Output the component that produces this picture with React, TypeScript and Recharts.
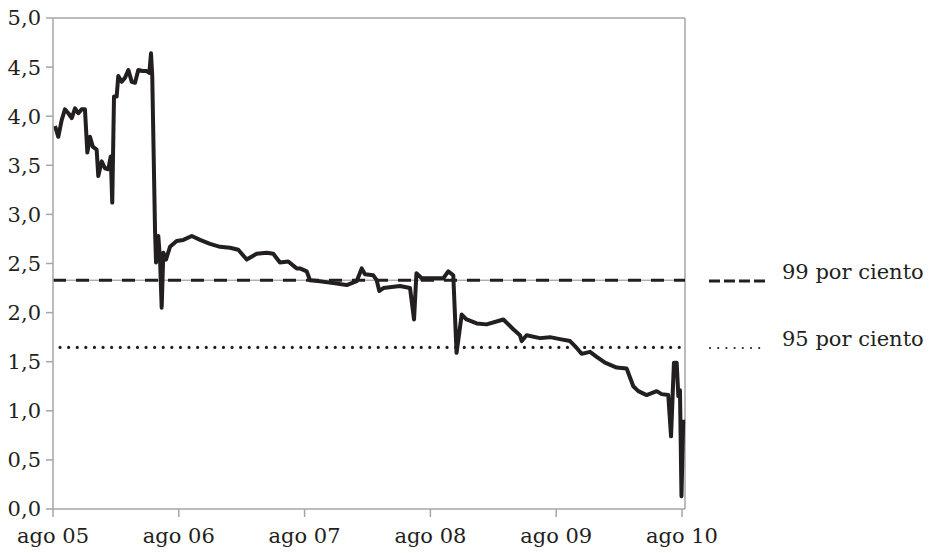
import { LineChart, Line, XAxis, YAxis, ReferenceLine } from 'recharts'

// years since ago 05
const dates = [
  0.016, 0.042, 0.069, 0.095, 0.122, 0.149, 0.175, 0.201, 0.228, 0.254,
  0.273, 0.294, 0.316, 0.347, 0.36, 0.387, 0.413, 0.44, 0.459, 0.471,
  0.485, 0.506, 0.519, 0.546, 0.572, 0.599, 0.626, 0.652, 0.678, 0.713,
  0.745, 0.766, 0.779, 0.789, 0.811, 0.819, 0.837, 0.851, 0.864, 0.877,
  0.898, 0.93, 0.983, 1.036, 1.103, 1.169, 1.248, 1.328, 1.407, 1.473,
  1.54, 1.619, 1.699, 1.751, 1.804, 1.87, 1.937, 1.963, 2.017, 2.043,
  2.122, 2.228, 2.335, 2.414, 2.454, 2.48, 2.546, 2.573, 2.594, 2.626,
  2.758, 2.838, 2.87, 2.889, 2.931, 3.023, 3.103, 3.142, 3.182, 3.208,
  3.249, 3.288, 3.368, 3.447, 3.58, 3.659, 3.712, 3.726, 3.765, 3.871,
  3.951, 4.03, 4.11, 4.163, 4.202, 4.269, 4.322, 4.388, 4.481, 4.56,
  4.613, 4.653, 4.719, 4.799, 4.838, 4.891, 4.913, 4.936, 4.958, 4.971,
  4.984, 4.996, 5.01,
]

const values = [
  3.9, 3.79, 3.96, 4.07, 4.03, 3.98, 4.08, 4.03, 4.07, 4.07,
  3.63, 3.79, 3.69, 3.66, 3.39, 3.54, 3.47, 3.46, 3.59, 3.12,
  4.2, 4.2, 4.41, 4.35, 4.39, 4.47, 4.35, 4.34, 4.47, 4.46,
  4.46, 4.44, 4.64, 4.41, 2.84, 2.51, 2.78, 2.54, 2.05, 2.61,
  2.54, 2.67, 2.73, 2.74, 2.78, 2.74, 2.7, 2.67, 2.66, 2.64,
  2.54, 2.6, 2.61, 2.6, 2.51, 2.52, 2.45, 2.45, 2.42, 2.33,
  2.32, 2.3, 2.28, 2.32, 2.45, 2.39, 2.38, 2.33, 2.22, 2.25,
  2.27, 2.25, 1.93, 2.4, 2.35, 2.35, 2.35, 2.42, 2.38, 1.59,
  1.98, 1.93, 1.89, 1.88, 1.93, 1.83, 1.77, 1.71, 1.77, 1.74,
  1.75, 1.73, 1.71, 1.64, 1.58, 1.6, 1.55, 1.49, 1.44, 1.43,
  1.25, 1.2, 1.16, 1.2, 1.17, 1.16, 0.74, 1.49, 1.49, 1.15,
  1.21, 0.13, 0.91,
]

const xTicks = [0, 1, 2, 3, 4, 5]
const xLabels = ['ago 05', 'ago 06', 'ago 07', 'ago 08', 'ago 09', 'ago 10']
const yTicks = [0, 0.5, 1, 1.5, 2, 2.5, 3, 3.5, 4, 4.5, 5]

const level99 = 2.33
const level95 = 1.645
const legendLabels = ['99 por ciento', '95 por ciento']

const data = dates.map((t, i) => ({ t, v: values[i] }))

const FONT = '"DejaVu Serif", serif'
const INK = '#231f20'
const AXIS = '#a6a6a6'
const X_MAX = 5.024

export default function App() {
  return (
    <div style={{ position: 'absolute', left: 0, top: 0, width: 929, height: 553, background: '#fff' }}>
      <LineChart width={929} height={553} data={data} margin={{ top: 18, right: 244, bottom: 0, left: 0 }}>
        <XAxis
          dataKey="t"
          type="number"
          domain={[0, X_MAX]}
          ticks={xTicks}
          tickFormatter={(v: number) => xLabels[v]}
          height={44}
          tickSize={8}
          tickMargin={11}
          axisLine={{ stroke: AXIS, strokeWidth: 1.5 }}
          tickLine={{ stroke: AXIS, strokeWidth: 1.5 }}
          tick={{ fill: INK, fontSize: 21, fontFamily: FONT }}
          interval={0}
        />
        <YAxis
          type="number"
          domain={[0, 5]}
          ticks={yTicks}
          tickFormatter={(v: number) => v.toFixed(1).replace('.', ',')}
          width={53}
          tickSize={7}
          tickMargin={5}
          axisLine={{ stroke: AXIS, strokeWidth: 1.5 }}
          tickLine={{ stroke: AXIS, strokeWidth: 1.5 }}
          tick={{ fill: INK, fontSize: 21, fontFamily: FONT }}
          interval={0}
        />
        <ReferenceLine y={5} stroke={AXIS} strokeWidth={1.5} />
        <ReferenceLine x={X_MAX} stroke={AXIS} strokeWidth={1.5} />
        <ReferenceLine y={level99} stroke="#8c8c8c" strokeWidth={1} />
        <ReferenceLine y={level99} stroke={INK} strokeWidth={3} strokeDasharray="13 10" />
        <ReferenceLine
          segment={[{ x: 0.056, y: level95 }, { x: X_MAX, y: level95 }]}
          stroke={INK}
          strokeWidth={3.2}
          strokeDasharray="0 8.6"
          strokeLinecap="round"
        />
        <Line
          dataKey="v"
          type="linear"
          stroke={INK}
          strokeWidth={4}
          strokeLinejoin="round"
          dot={false}
          isAnimationActive={false}
        />
      </LineChart>
      <svg width={229} height={120} style={{ position: 'absolute', left: 700, top: 250 }}>
        <line x1={9} x2={65} y1={31} y2={31} stroke={INK} strokeWidth={3} strokeDasharray="11 4" />
        <text x={82} y={29} fontSize={21} fontFamily={FONT} fill={INK}>{legendLabels[0]}</text>
        <line x1={10} x2={62} y1={98} y2={98} stroke={INK} strokeWidth={2.2} strokeDasharray="0 8.2" strokeLinecap="round" />
        <text x={82} y={96} fontSize={21} fontFamily={FONT} fill={INK}>{legendLabels[1]}</text>
      </svg>
    </div>
  )
}
